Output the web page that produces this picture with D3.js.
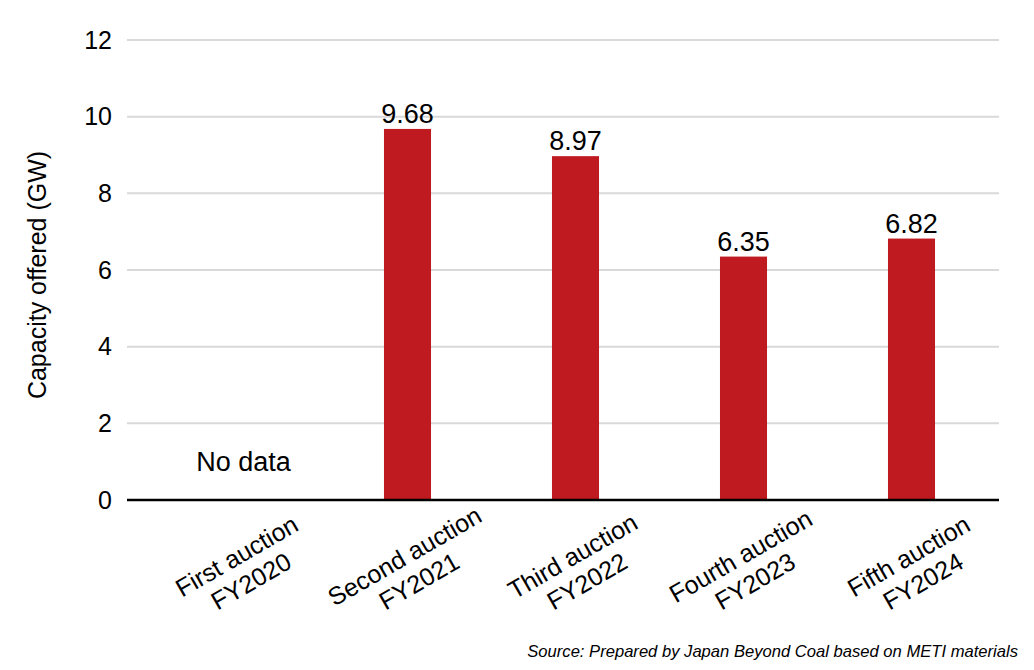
<!DOCTYPE html>
<html>
<head>
<meta charset="utf-8">
<script src="https://cdn.jsdelivr.net/npm/d3@7"></script>
<style>
  html, body { margin: 0; padding: 0; background: #fff; }
  svg { display: block; font-family: "Liberation Sans", Arial, sans-serif; }
</style>
</head>
<body>
<svg id="chart" width="1034" height="670"></svg>
<script>
const categories = [
  ["First auction", "FY2020"],
  ["Second auction", "FY2021"],
  ["Third auction", "FY2022"],
  ["Fourth auction", "FY2023"],
  ["Fifth auction", "FY2024"]
];
const values = [null, 9.68, 8.97, 6.35, 6.82];
const yTicks = [0, 2, 4, 6, 8, 10, 12];
const yTitle = "Capacity offered (GW)";
const noDataLabel = "No data";
const sourceText = "Source: Prepared by Japan Beyond Coal based on METI materials";

const svg = d3.select("#chart");
const plotLeft = 127, plotRight = 999;
const y = d3.scaleLinear().domain([0, 12]).range([500, 40]);
const x = d3.scaleBand()
  .domain(d3.range(categories.length))
  .range([155.5, 995.5])
  .paddingInner(0.72)
  .paddingOuter(0.36);

// gridlines
svg.append("g").selectAll("line")
  .data(yTicks.filter(t => t !== 0))
  .join("line")
  .attr("x1", plotLeft).attr("x2", plotRight)
  .attr("y1", d => y(d)).attr("y2", d => y(d))
  .attr("stroke", "#d9d9d9").attr("stroke-width", 2);

// y axis labels
const yAxis = d3.axisLeft(y).tickValues(yTicks).tickSize(0).tickPadding(0).tickFormat(d3.format("d"));
const gy = svg.append("g").attr("transform", "translate(112,0)").call(yAxis);
gy.select(".domain").remove();
gy.selectAll("text")
  .attr("font-size", 25)
  .attr("font-family", "'Liberation Sans', Arial, sans-serif")
  .attr("fill", "#000");

// bars
const barData = values.map((v, i) => ({ i, v })).filter(d => d.v !== null);
svg.append("g").selectAll("rect")
  .data(barData)
  .join("rect")
  .attr("x", d => x(d.i))
  .attr("width", x.bandwidth())
  .attr("y", d => y(d.v))
  .attr("height", d => y(0) - y(d.v))
  .attr("fill", "#c01a21");

// value labels
svg.append("g").selectAll("text")
  .data(barData)
  .join("text")
  .attr("x", d => x(d.i) + x.bandwidth() / 2)
  .attr("y", d => y(d.v) - 6)
  .attr("text-anchor", "middle")
  .attr("font-size", 27)
  .attr("fill", "#000")
  .text(d => d.v.toFixed(2));

// no data label
values.forEach((v, i) => {
  if (v === null) {
    svg.append("text")
      .attr("x", x(i) + x.bandwidth() / 2 + 4)
      .attr("y", 470.5)
      .attr("text-anchor", "middle")
      .attr("font-size", 27)
      .attr("fill", "#000")
      .text(noDataLabel);
  }
});

// baseline axis
svg.append("line")
  .attr("x1", plotLeft).attr("x2", plotRight)
  .attr("y1", y(0)).attr("y2", y(0))
  .attr("stroke", "#000").attr("stroke-width", 2.5);

// category labels
const cg = svg.append("g").selectAll("g")
  .data(categories.map((c, i) => ({ c, i })))
  .join("g")
  .attr("transform", d => `translate(${x(d.i) + x.bandwidth() / 2 + 4},568) rotate(-30)`);
cg.each(function(d) {
  const g = d3.select(this);
  d.c.forEach((line, k) => {
    g.append("text")
      .attr("x", 0)
      .attr("y", -5 + k * 29)
      .attr("text-anchor", "middle")
      .attr("font-size", 25)
      .attr("fill", "#000")
      .text(line);
  });
});

// y title
svg.append("text")
  .attr("transform", `translate(46,${(40 + 500) / 2 + 5}) rotate(-90)`)
  .attr("text-anchor", "middle")
  .attr("font-size", 25)
  .attr("fill", "#000")
  .text(yTitle);

// source
svg.append("text")
  .attr("x", 1018)
  .attr("y", 657)
  .attr("text-anchor", "end")
  .attr("font-size", 16.6)
  .attr("font-style", "italic")
  .attr("fill", "#000")
  .text(sourceText);
</script>
</body>
</html>
